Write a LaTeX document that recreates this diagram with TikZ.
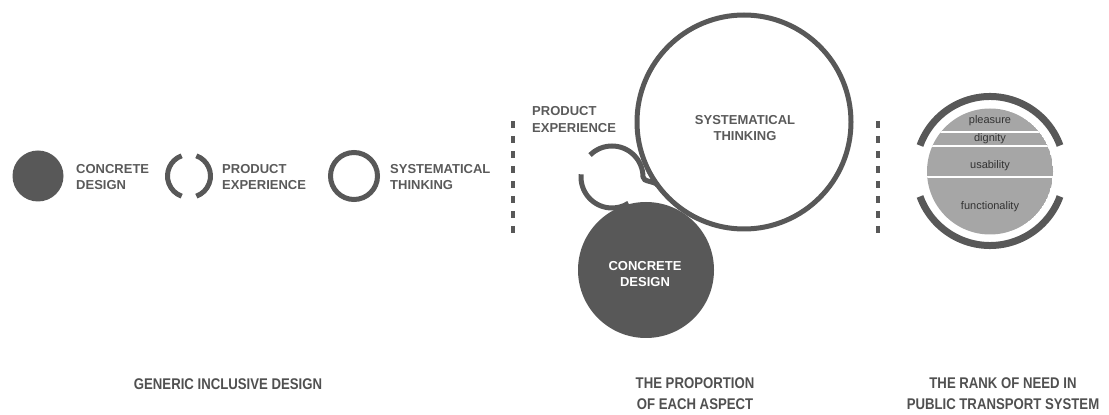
\documentclass[tikz,border=0pt]{standalone}
\usepackage{fontspec}
\setmainfont{Liberation Sans}
\newfontfamily\captionfont[FakeStretch=0.85]{Liberation Sans}
\definecolor{ink}{HTML}{585858}
\definecolor{txt}{HTML}{5A5A5A}
\definecolor{capt}{HTML}{505050}
\definecolor{disk}{HTML}{A6A6A6}
\definecolor{tagtxt}{HTML}{333333}
\begin{document}
\begin{tikzpicture}[x=1pt,y=1pt,
  key/.style={font=\bfseries\fontsize{13}{16.5}\selectfont, text=txt, align=left, inner sep=0pt},
  keyc/.style={key, align=center},
  caption/.style={font=\captionfont\bfseries\fontsize{15.5}{21}\selectfont, text=capt, align=center, inner sep=0pt},
  stroke/.style={draw=ink, line width=5pt},
  divider/.style={draw=ink, line width=4pt, dash pattern=on 7pt off 8pt},
  tag/.style={font=\fontsize{11}{13}\selectfont, text=tagtxt, inner sep=0pt}]
\useasboundingbox (0,0) rectangle (1109,415);

% ---------- legend: generic inclusive design ----------
\node[circle, fill=ink, minimum size=51pt, inner sep=0pt] (cdDot) at (38,239) {};
\node[key, anchor=west] (cdKey) at (76,238) {CONCRETE\\DESIGN};

\coordinate (peMark) at (189,239);
\draw[stroke] (peMark) ++(110:21.5pt) arc[start angle=110, end angle=250, radius=21.5pt];
\draw[stroke] (peMark) ++(70:21.5pt) arc[start angle=70, end angle=-70, radius=21.5pt];
\node[key, anchor=west] (peKey) at (222,238) {PRODUCT\\EXPERIENCE};

\node[circle, stroke, minimum size=47pt, inner sep=0pt] (stRing) at (354,239) {};
\node[key, anchor=west] (stKey) at (390,238) {SYSTEMATICAL\\THINKING};

\coordinate (divA) at (513,294);
\coordinate (divAend) at (513,181);
\draw[divider] (divA) -- (divAend);

% ---------- proportion of each aspect ----------
\node[circle, stroke, minimum size=214pt, inner sep=0pt] (stBig) at (744,293) {};
\node[keyc] (stBigKey) at (745,287) {SYSTEMATICAL\\THINKING};

% open ring whose upper half sweeps into the large circle
\coordinate (peRing) at (612,238);
\coordinate (peJoin) at (657.5,230);
\draw[stroke] (peRing) ++(135:31pt) arc[start angle=135, end angle=0, radius=31pt]
  .. controls (643,233) and (654.6,234) .. (peJoin);
\draw[stroke] (peRing) ++(175:31pt) arc[start angle=175, end angle=302, radius=31pt];
\node[key, anchor=west] (peMidKey) at (532,295.5) {PRODUCT\\EXPERIENCE};

\node[circle, fill=ink, minimum size=136pt, inner sep=0pt] (cdBig) at (646,145) {};
\node[keyc, text=white] (cdBigKey) at (645,141) {CONCRETE\\DESIGN};

\coordinate (divB) at (878,294);
\coordinate (divBend) at (878,181);
\draw[divider] (divB) -- (divBend);

% ---------- rank of need ----------
\coordinate (rank) at (990,244);
\draw[draw=ink, line width=7pt] (rank) ++(20:74.5pt) arc[start angle=20, end angle=160, radius=74.5pt];
\draw[draw=ink, line width=7pt] (rank) ++(200:74.5pt) arc[start angle=200, end angle=340, radius=74.5pt];
\begin{scope}
  \clip (990,243.5) circle[radius=63pt];
  \fill[disk] (990,243.5) circle[radius=63pt];
  \draw[white, line width=1.5pt] (920,283) -- (1060,283);
  \draw[white, line width=1.5pt] (920,269) -- (1060,269);
  \draw[white, line width=1.5pt] (920,238) -- (1060,238);
\end{scope}
\node[tag] (tPleasure) at (990,294) {pleasure};
\node[tag] (tDignity) at (990,276) {dignity};
\node[tag] (tUsability) at (990,249) {usability};
\node[tag] (tFunction) at (990,208) {functionality};

% ---------- captions ----------
\node[caption] (capA) at (228,31) {GENERIC INCLUSIVE DESIGN};
\node[caption] (capB) at (695,21) {THE PROPORTION\\OF EACH ASPECT};
\node[caption] (capC) at (1003,21) {THE RANK OF NEED IN\\PUBLIC TRANSPORT SYSTEM};
\end{tikzpicture}
\end{document}
